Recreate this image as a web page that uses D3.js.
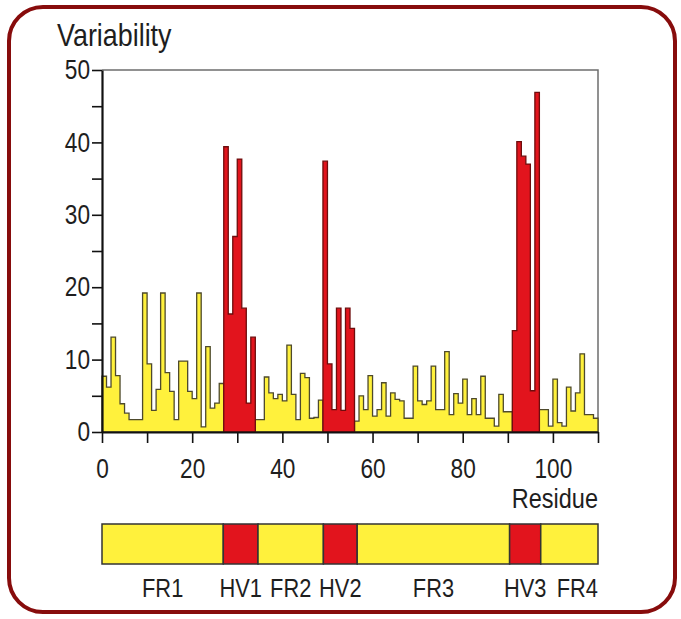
<!DOCTYPE html>
<html>
<head>
<meta charset="utf-8">
<script src="https://cdn.jsdelivr.net/npm/d3@7"></script>
<style>
  body { margin: 0; background: #fff; }
  text { font-family: "Liberation Sans", Arial, sans-serif; fill: #1e1e1e; }
</style>
</head>
<body>
<svg id="chart" width="681" height="619"></svg>
<script>
// variability per residue position (110 positions)
const variability = [
  // FR1
  7.7, 6.2, 13.1, 7.8, 3.9, 2.6, 1.7, 1.7, 1.7, 19.2, 9.4, 3.0, 5.9, 19.2, 8.2, 5.6, 1.7, 9.8, 9.8, 5.6,
  4.6, 19.2, 0.7, 11.8, 3.3, 4.0, 6.7,
  // HV1
  39.4, 16.3, 27.0, 37.7, 17.1, 4.0, 13.1,
  // FR2
  1.7, 1.7, 7.6, 5.4, 4.6, 5.2, 4.3, 12.0, 5.2, 1.7, 8.1, 7.5, 1.9, 2.0, 4.4,
  // HV2
  37.4, 9.4, 3.1, 17.1, 3.0, 17.1, 14.3,
  // FR3
  1.5, 5.0, 3.1, 7.8, 2.2, 3.1, 6.8, 2.2, 5.4, 4.5, 4.3, 1.9, 1.9, 9.1, 4.3, 3.8, 4.3, 9.1, 3.1, 3.1,
  11.1, 2.4, 5.3, 4.0, 7.3, 2.4, 4.6, 2.4, 7.7, 1.9, 1.9, 0.8, 5.2, 2.8, 2.8,
  // HV3
  14.0, 40.1, 38.1, 37.0, 5.7, 46.9,
  // FR4
  3.1, 3.1, 0.8, 7.3, 1.3, 0.8, 6.2, 2.9, 5.4, 10.8, 2.4, 2.4, 1.9
];

const regionNames = ['FR1', 'HV1', 'FR2', 'HV2', 'FR3', 'HV3', 'FR4'];
const regionStarts = [0, 27, 34, 49, 56, 91, 97];
const regionEnds = [27, 34, 49, 56, 91, 97, 110];
// region edges as drawn in the band under the plot
const bandEdges = [0, 26.9, 34.6, 49.1, 56.6, 90.4, 97.3, 110];

const xTicks = [0, 10, 20, 30, 40, 50, 60, 70, 80, 90, 100, 110];
const xTickLabels = ['0', '', '20', '', '40', '', '60', '', '80', '', '100', ''];
const yTicks = [0, 5, 10, 15, 20, 25, 30, 35, 40, 45, 50];
const yTickLabels = ['0', '', '10', '', '20', '', '30', '', '40', '', '50'];

const yellow = '#fff13c';
const red = '#e2141d';
const squeeze = 0.84;   // condensed look, no narrow font installed
const isHyper = name => name.startsWith('HV');

const svg = d3.select('#chart');
const plotLeft = 102, plotRight = 598, plotTop = 70, plotBottom = 432;

const x = d3.scaleLinear().domain([0, 110]).range([plotLeft, plotRight]);
const y = d3.scaleLinear().domain([0, 50]).range([plotBottom, plotTop]);

const label = (px, py, str, size, anchor) => svg.append('text')
  .attr('transform', `translate(${px},${py}) scale(${squeeze},1)`)
  .attr('text-anchor', anchor || 'start')
  .attr('font-size', size)
  .text(str);

// frame
svg.append('rect')
  .attr('x', 9).attr('y', 7)
  .attr('width', 666).attr('height', 605)
  .attr('rx', 34).attr('ry', 34)
  .attr('fill', '#fff')
  .attr('stroke', '#870c0c')
  .attr('stroke-width', 4);

label(57, 46, 'Variability', 32);

// plot box (top and right edges)
svg.append('path')
  .attr('d', `M${plotLeft},${plotTop}H${plotRight}V${plotBottom}`)
  .attr('fill', 'none')
  .attr('stroke', '#6d6d6d')
  .attr('stroke-width', 1.5);

const area = d3.area()
  .x(d => x(d.r))
  .y0(y(0))
  .y1(d => y(d.v))
  .curve(d3.curveStepAfter);

const order = regionNames.map((n, k) => k).sort((a, b) => isHyper(regionNames[a]) - isHyper(regionNames[b]));
order.forEach(k => {
  const s = regionStarts[k];
  const pts = variability.slice(s, regionEnds[k]).map((v, j) => ({r: s + j, v: v}));
  pts.push({r: regionEnds[k], v: pts[pts.length - 1].v});
  const hv = isHyper(regionNames[k]);
  svg.append('path')
    .datum(pts)
    .attr('d', area)
    .attr('fill', hv ? red : yellow)
    .attr('stroke', hv ? '#6e0d0d' : '#4e4a2c')
    .attr('stroke-width', 1.3)
    .attr('stroke-linejoin', 'miter');
});

// axes
const yAxis = d3.axisLeft(y)
  .tickValues(yTicks)
  .tickSize(10)
  .tickSizeOuter(0)
  .tickPadding(2)
  .tickFormat((d, i) => yTickLabels[i]);

const xAxis = d3.axisBottom(x)
  .tickValues(xTicks)
  .tickSize(11)
  .tickSizeOuter(0)
  .tickPadding(16)
  .tickFormat((d, i) => xTickLabels[i]);

const gy = svg.append('g')
  .attr('transform', `translate(${plotLeft},0)`)
  .call(yAxis);
const gx = svg.append('g')
  .attr('transform', `translate(0,${plotBottom})`)
  .call(xAxis);

[gx, gy].forEach(g => {
  g.select('.domain').attr('stroke', '#111').attr('stroke-width', 2.2);
  g.selectAll('.tick line').attr('stroke', '#111').attr('stroke-width', 1.6);
  g.selectAll('.tick text')
    .attr('font-family', '"Liberation Sans", Arial, sans-serif')
    .attr('font-size', 27)
    .attr('fill', '#1e1e1e')
    .each(function() {
      const t = d3.select(this);
      t.attr('x', (+t.attr('x') || 0) / squeeze)
        .attr('transform', `scale(${squeeze},1)`);
    });
});

label(plotRight, 508, 'Residue', 28, 'end');

// region band
const bandTop = 524, bandBottom = 564;
regionNames.forEach((name, k) => {
  svg.append('rect')
    .attr('x', x(bandEdges[k]))
    .attr('y', bandTop)
    .attr('width', x(bandEdges[k + 1]) - x(bandEdges[k]))
    .attr('height', bandBottom - bandTop)
    .attr('fill', isHyper(name) ? red : yellow)
    .attr('stroke', '#333')
    .attr('stroke-width', 1.5);
});

regionNames.forEach((name, k) => {
  const last = k === regionNames.length - 1;
  const cx = last ? plotRight : (x(bandEdges[k]) + x(bandEdges[k + 1])) / 2;
  label(cx, 597, name, 26, last ? 'end' : 'middle');
});
</script>
</body>
</html>
